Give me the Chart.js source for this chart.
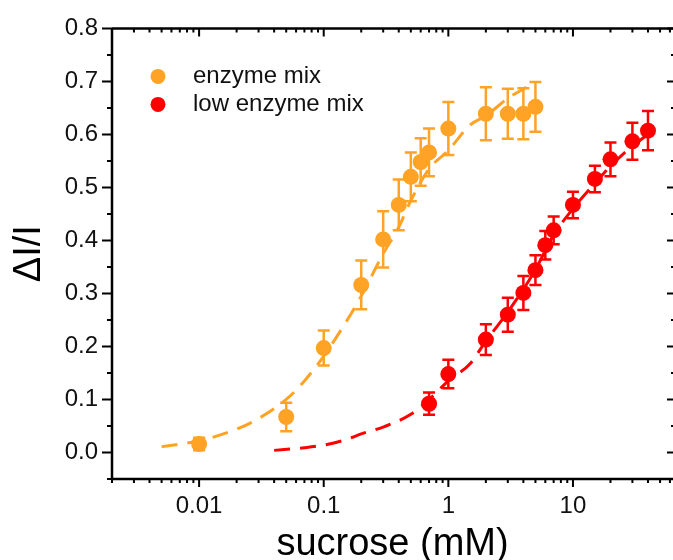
<!DOCTYPE html>
<html>
<head>
<meta charset="utf-8">
<script src="https://cdn.jsdelivr.net/npm/chart.js@4/dist/chart.umd.min.js"></script>
<style>
  html, body { margin: 0; padding: 0; background: #fff; overflow: hidden; }
</style>
</head>
<body>
<canvas id="myChart" width="673" height="560"></canvas>
<script>
// sucrose concentration (mM) and response, enzyme mix
const enzymeConc = [0.01, 0.05, 0.1, 0.2, 0.3, 0.4, 0.5, 0.6, 0.7, 1, 2, 3, 4, 5];
const enzymeSignal = [0.016, 0.067, 0.197, 0.316, 0.402, 0.467, 0.52, 0.548, 0.566, 0.611, 0.639, 0.639, 0.639, 0.652];
const enzymeErr = [0.012, 0.027, 0.033, 0.046, 0.053, 0.048, 0.046, 0.045, 0.045, 0.05, 0.05, 0.047, 0.048, 0.047];

// low enzyme mix
const lowConc = [0.7, 1, 2, 3, 4, 5, 6, 7, 10, 15, 20, 30, 40];
const lowSignal = [0.092, 0.148, 0.213, 0.26, 0.301, 0.344, 0.391, 0.419, 0.467, 0.516, 0.553, 0.587, 0.607];
const lowErr = [0.021, 0.027, 0.029, 0.032, 0.032, 0.028, 0.027, 0.026, 0.025, 0.025, 0.032, 0.035, 0.037];

// fitted curves (dashed)
const enzymeFitConc = [0.005, 0.01, 0.02, 0.03, 0.05, 0.07, 0.1, 0.15, 0.2, 0.3, 0.4, 0.5, 0.7, 1, 1.5, 2, 3, 4.3];
const enzymeFitSignal = [0.011, 0.022, 0.044, 0.064, 0.1, 0.135, 0.182, 0.245, 0.295, 0.375, 0.425, 0.475, 0.535, 0.57, 0.618, 0.635, 0.668, 0.69];
const lowFitConc = [0.04, 0.07, 0.1, 0.15, 0.2, 0.3, 0.5, 0.7, 1, 1.5, 2, 3, 4, 5, 7, 10, 15, 20, 30, 40];
const lowFitSignal = [0.004, 0.009, 0.014, 0.024, 0.035, 0.048, 0.072, 0.1, 0.135, 0.168, 0.21, 0.265, 0.308, 0.345, 0.41, 0.46, 0.508, 0.54, 0.578, 0.6];

// axis ticks
const xTickValues = [0.01, 0.1, 1, 10];
const yTickValues = [0, 0.1, 0.2, 0.3, 0.4, 0.5, 0.6, 0.7, 0.8];

const ORANGE = "#FFA326";
const RED = "#FF0000";
const FONT = "'Liberation Sans', Arial, sans-serif";

function points(xs, ys) {
  return xs.map((x, i) => ({ x: x, y: ys[i] }));
}

// vertical error bars with caps
const errorBars = {
  id: "errorBars",
  afterDatasetsDraw(chart) {
    const ctx = chart.ctx;
    const xs = chart.scales.x, ys = chart.scales.y;
    chart.data.datasets.forEach((ds) => {
      if (!ds.errors) return;
      ctx.save();
      ctx.strokeStyle = ds.backgroundColor;
      ctx.lineWidth = 2.5;
      ds.data.forEach((p, i) => {
        const px = xs.getPixelForValue(p.x);
        const top = ys.getPixelForValue(p.y + ds.errors[i]);
        const bot = ys.getPixelForValue(p.y - ds.errors[i]);
        ctx.beginPath();
        ctx.moveTo(px, top); ctx.lineTo(px, bot);
        ctx.moveTo(px - 6, top); ctx.lineTo(px + 6, top);
        ctx.moveTo(px - 6, bot); ctx.lineTo(px + 6, bot);
        ctx.stroke();
      });
      ctx.restore();
    });
  }
};

// axis frame; the right edge sits at the canvas border, so only its ticks show
const frame = {
  id: "frame",
  afterDraw(chart) {
    const ctx = chart.ctx;
    const a = chart.chartArea;
    const xs = chart.scales.x, ys = chart.scales.y;
    const right = a.right + 2;
    ctx.save();
    ctx.strokeStyle = "#000";
    ctx.lineWidth = 2.5;
    ctx.beginPath();
    ctx.moveTo(a.left, a.top); ctx.lineTo(right, a.top);
    ctx.moveTo(a.left, a.bottom); ctx.lineTo(right, a.bottom);
    ctx.moveTo(a.left, a.top); ctx.lineTo(a.left, a.bottom);
    ctx.stroke();

    ctx.lineWidth = 2;
    ctx.beginPath();
    for (let k = -3; k <= 1; k++) {
      for (let m = 1; m <= 9; m++) {
        const v = m * Math.pow(10, k);
        if (v < xs.min || v > xs.max) continue;
        const px = xs.getPixelForValue(v);
        const len = m === 1 ? 8 : 4;
        ctx.moveTo(px, a.bottom); ctx.lineTo(px, a.bottom + len);
        ctx.moveTo(px, a.top); ctx.lineTo(px, a.top + len);
      }
    }
    for (let i = -1; i <= 16; i++) {
      const py = ys.getPixelForValue(i * 0.05);
      const major = i % 2 === 0;
      ctx.moveTo(a.left, py); ctx.lineTo(a.left - (major ? 10 : 5), py);
      ctx.moveTo(right, py); ctx.lineTo(right - (major ? 8 : 4), py);
    }
    ctx.stroke();
    ctx.restore();
  }
};

// legend in the upper left of the plot
const insideLegend = {
  id: "insideLegend",
  afterDraw(chart) {
    const ctx = chart.ctx;
    const a = chart.chartArea;
    const items = chart.data.datasets.filter((ds) => ds.errors);
    ctx.save();
    ctx.font = "24px " + FONT;
    ctx.textBaseline = "middle";
    items.forEach((ds, i) => {
      const y = a.top + 48 + i * 28;
      ctx.fillStyle = ds.backgroundColor;
      ctx.beginPath();
      ctx.arc(a.left + 46, y, 7.5, 0, Math.PI * 2);
      ctx.fill();
      ctx.fillStyle = "#111";
      ctx.fillText(ds.label, a.left + 81, y);
    });
    ctx.restore();
  }
};

const ctx = document.getElementById("myChart").getContext("2d");
const myChart = new Chart(ctx, {
  type: "scatter",
  data: {
    datasets: [
      {
        type: "line",
        label: "enzyme mix fit",
        data: points(enzymeFitConc, enzymeFitSignal),
        borderColor: ORANGE,
        borderWidth: 3,
        borderDash: [16, 10],
        pointRadius: 0,
        cubicInterpolationMode: "monotone",
        fill: false
      },
      {
        type: "line",
        label: "low enzyme mix fit",
        data: points(lowFitConc, lowFitSignal),
        borderColor: RED,
        borderWidth: 3,
        borderDash: [16, 10],
        pointRadius: 0,
        cubicInterpolationMode: "monotone",
        fill: false
      },
      {
        label: "enzyme mix",
        data: points(enzymeConc, enzymeSignal),
        errors: enzymeErr,
        backgroundColor: ORANGE,
        borderWidth: 0,
        pointRadius: 8
      },
      {
        label: "low enzyme mix",
        data: points(lowConc, lowSignal),
        errors: lowErr,
        backgroundColor: RED,
        borderWidth: 0,
        pointRadius: 8
      }
    ]
  },
  options: {
    responsive: false,
    animation: false,
    layout: { autoPadding: false, padding: { top: 24, right: 0, left: 0, bottom: 0 } },
    plugins: {
      legend: { display: false },
      tooltip: { enabled: false }
    },
    scales: {
      x: {
        type: "logarithmic",
        min: 0.002,
        max: 63.5,
        afterBuildTicks: (scale) => { scale.ticks = xTickValues.map((v) => ({ value: v })); },
        afterFit: (scale) => {
          scale.height = 81;
          scale.paddingLeft = 0;
          scale.paddingRight = 0;
        },
        grid: { display: false, drawTicks: false },
        border: { display: false },
        ticks: {
          autoSkip: false,
          maxRotation: 0,
          padding: 13,
          color: "#111",
          font: { family: FONT, size: 24 },
          callback: (v) => String(+Number(v).toPrecision(1))
        },
        title: {
          display: true,
          text: "sucrose (mM)",
          color: "#000",
          font: { family: FONT, size: 38, lineHeight: 1.2 },
          padding: { top: 0, bottom: -7 }
        }
      },
      y: {
        min: -0.05,
        max: 0.8,
        afterBuildTicks: (scale) => { scale.ticks = yTickValues.map((v) => ({ value: v })); },
        afterFit: (scale) => { scale.width = 112; },
        grid: { display: false, drawTicks: false },
        border: { display: false },
        ticks: {
          padding: 14,
          color: "#111",
          font: { family: FONT, size: 24 },
          callback: (v) => Number(v).toFixed(1)
        },
        title: {
          display: true,
          text: "ΔI/I",
          color: "#000",
          font: { family: FONT, size: 38, lineHeight: 1.2 },
          padding: { top: 7, bottom: 0 }
        }
      }
    }
  },
  plugins: [errorBars, frame, insideLegend]
});
</script>
</body>
</html>
